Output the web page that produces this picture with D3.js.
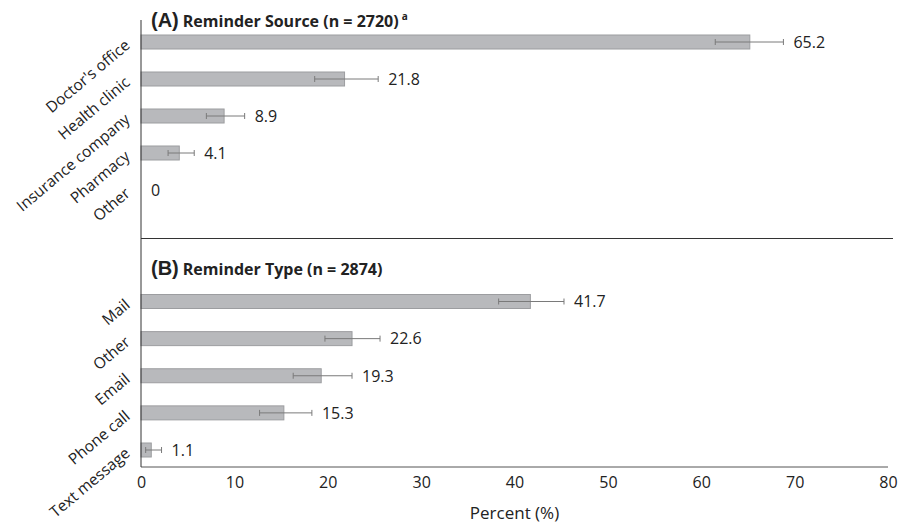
<!DOCTYPE html>
<html>
<head>
<meta charset="utf-8">
<script src="https://cdn.jsdelivr.net/npm/d3@7"></script>
<style>
  body { margin: 0; background: #fff; }
  text { font-family: "Open Sans", sans-serif; fill: #222; }
</style>
</head>
<body>
<div id="chart"></div>
<script>
// ---- Data ----
const sourceCats  = ["Doctor's office", "Health clinic", "Insurance company", "Pharmacy", "Other"];
const sourceVals  = [65.2, 21.8, 8.9, 4.1, 0];
const sourceLow   = [61.5, 18.6, 7.0, 2.9, 0];
const sourceHigh  = [68.8, 25.4, 11.1, 5.7, 0];

const typeCats  = ["Mail", "Other", "Email", "Phone call", "Text message"];
const typeVals  = [41.7, 22.6, 19.3, 15.3, 1.1];
const typeLow   = [38.3, 19.7, 16.3, 12.7, 0.5];
const typeHigh  = [45.3, 25.6, 22.6, 18.3, 2.2];

const xTicks = [0, 10, 20, 30, 40, 50, 60, 70, 80];

// ---- Setup ----
const width = 909, height = 524;
const barH = 14;

const svg = d3.select("#chart").append("svg")
    .attr("width", width)
    .attr("height", height);

const xScale = d3.scaleLinear().domain([0, 80]).range([141, 888]);

const yA = d3.scalePoint().domain(sourceCats).range([42, 190]);
const yB = d3.scalePoint().domain(typeCats).range([301.5, 450]);

// ---- Panel drawing ----
function drawPanel(cats, vals, low, high, yScale) {
    const rows = cats.map((c, i) => ({ cat: c, v: vals[i], lo: low[i], hi: high[i] }));
    const g = svg.append("g");

    g.selectAll(".bar")
        .data(rows)
        .join("rect")
        .attr("class", "bar")
        .attr("x", xScale(0))
        .attr("y", d => yScale(d.cat) - barH / 2)
        .attr("width", d => xScale(d.v) - xScale(0))
        .attr("height", barH)
        .attr("fill", "#b8b9bc")
        .attr("stroke", "#9c9da0")
        .attr("stroke-width", d => d.v > 0 ? 1 : 0);

    // error bars
    const eb = g.selectAll(".err")
        .data(rows.filter(d => d.hi > d.lo))
        .join("g")
        .attr("class", "err")
        .attr("stroke", "#7a7a7a")
        .attr("stroke-width", 1);

    eb.append("line")
        .attr("x1", d => xScale(d.lo))
        .attr("x2", d => xScale(d.hi))
        .attr("y1", d => yScale(d.cat))
        .attr("y2", d => yScale(d.cat));
    eb.append("line")
        .attr("x1", d => xScale(d.lo)).attr("x2", d => xScale(d.lo))
        .attr("y1", d => yScale(d.cat) - 3).attr("y2", d => yScale(d.cat) + 3);
    eb.append("line")
        .attr("x1", d => xScale(d.hi)).attr("x2", d => xScale(d.hi))
        .attr("y1", d => yScale(d.cat) - 3).attr("y2", d => yScale(d.cat) + 3);

    // value labels
    g.selectAll(".val")
        .data(rows)
        .join("text")
        .attr("class", "val")
        .attr("x", d => xScale(Math.max(d.hi, d.v)) + 10)
        .attr("y", d => yScale(d.cat))
        .attr("dy", "0.36em")
        .attr("font-size", 16)
        .text(d => d.v);

    // category labels, rotated
    g.selectAll(".cat")
        .data(rows)
        .join("text")
        .attr("class", "cat")
        .attr("text-anchor", "end")
        .attr("font-size", 15.5)
        .attr("transform", d => `translate(131,${yScale(d.cat) + 5}) rotate(-40)`)
        .text(d => d.cat);
}

drawPanel(sourceCats, sourceVals, sourceLow, sourceHigh, yA);
drawPanel(typeCats, typeVals, typeLow, typeHigh, yB);

// ---- Titles ----
function title(y, letter, rest, sup) {
    const t = svg.append("text").attr("x", 151).attr("y", y);
    t.append("tspan")
        .attr("font-family", "Liberation Sans, Arial, sans-serif")
        .attr("font-weight", "bold")
        .attr("font-size", 20)
        .text(letter);
    t.append("tspan")
        .attr("font-weight", "bold")
        .attr("font-size", 16)
        .attr("dx", 4)
        .text(rest);
    if (sup) {
        t.append("tspan")
            .attr("font-weight", "bold")
            .attr("font-size", 10)
            .attr("dx", 3)
            .attr("dy", -7)
            .text(sup);
    }
}
title(27, "(A)", "Reminder Source (n = 2720)", "a");
title(275, "(B)", "Reminder Type (n = 2874)", null);

// ---- Axes ----
const xAxis = svg.append("g")
    .attr("class", "x-axis")
    .attr("transform", "translate(0,467)")
    .call(d3.axisBottom(xScale).tickValues(xTicks).tickSize(0).tickPadding(10));
xAxis.select(".domain").attr("stroke", "#555").attr("d", `M${xScale(0)},0H${xScale(80)}`);
xAxis.selectAll("text")
    .attr("font-family", "Open Sans, sans-serif")
    .attr("font-size", 16)
    .attr("fill", "#222");

svg.append("line")
    .attr("x1", xScale(0)).attr("x2", xScale(0))
    .attr("y1", 20).attr("y2", 467)
    .attr("stroke", "#333");

// separator between panels
svg.append("line")
    .attr("x1", xScale(0)).attr("x2", 893)
    .attr("y1", 238.5).attr("y2", 238.5)
    .attr("stroke", "#333");

svg.append("text")
    .attr("x", (xScale(0) + xScale(80)) / 2)
    .attr("y", 519)
    .attr("text-anchor", "middle")
    .attr("font-size", 17)
    .text("Percent (%)");
</script>
</body>
</html>
